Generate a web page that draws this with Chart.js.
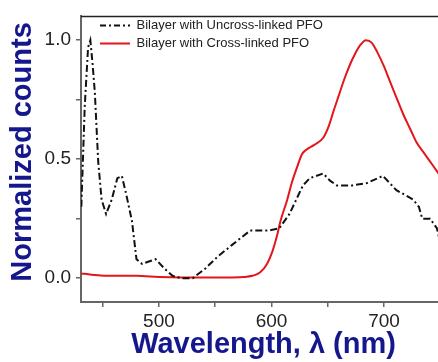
<!DOCTYPE html>
<html>
<head>
<meta charset="utf-8">
<script src="https://cdn.jsdelivr.net/npm/chart.js@4"></script>
<style>
  html, body { margin: 0; padding: 0; background: #ffffff; overflow: hidden; }
  #wrap { width: 438px; height: 362px; position: relative; }
</style>
</head>
<body>
<div id="wrap"><canvas id="c" width="438" height="362"></canvas></div>
<script>
const seriesNames = ["Bilayer with Uncross-linked PFO", "Bilayer with Cross-linked PFO"];

const uncrossWavelength = [431, 434, 437, 439, 441, 443, 446, 449, 453, 458, 463, 467, 471, 476, 480, 485, 491, 497, 505, 512, 520, 530, 541, 552, 565, 581, 597, 607, 616, 622, 628, 634, 646, 652, 658, 672, 685, 699, 705, 711, 726, 731, 734, 741, 747, 750];
const uncrossCounts     = [0.30, 0.72, 0.97, 1.00, 0.90, 0.78, 0.49, 0.33, 0.27, 0.33, 0.42, 0.43, 0.35, 0.24, 0.08, 0.06, 0.07, 0.08, 0.04, 0.01, 0.00, 0.00, 0.04, 0.09, 0.14, 0.20, 0.20, 0.21, 0.27, 0.33, 0.39, 0.42, 0.44, 0.41, 0.39, 0.39, 0.40, 0.43, 0.40, 0.37, 0.33, 0.30, 0.25, 0.25, 0.21, 0.15];

const crossWavelength = [431, 440, 460, 480, 500, 520, 540, 560, 575, 583, 590, 596, 601, 605, 608, 614, 618, 623, 627, 631, 638, 646, 651, 655, 660, 665, 670, 674, 679, 684, 689, 694, 700, 705, 711, 717, 723, 729, 735, 741, 747, 750];
const crossCounts     = [0.02, 0.015, 0.01, 0.01, 0.005, 0.003, 0.003, 0.003, 0.005, 0.01, 0.025, 0.06, 0.115, 0.18, 0.24, 0.33, 0.40, 0.47, 0.52, 0.54, 0.56, 0.59, 0.64, 0.70, 0.77, 0.84, 0.90, 0.94, 0.98, 1.00, 0.99, 0.95, 0.89, 0.83, 0.76, 0.69, 0.63, 0.57, 0.53, 0.49, 0.45, 0.43];

const xMajorTicks = [500, 600, 700];
const yMajorTicks = [0.0, 0.5, 1.0];
const xTitle = " Wavelength, \u03bb (nm)";
const yTitle = "\u2002Normalized counts";

const navy = "#15178c";
const axisGray = "#666666";
const fontFam = "'Liberation Sans', Arial, sans-serif";

function toPoints(xs, ys) { return xs.map((x, i) => ({ x: x, y: ys[i] })); }

const frame = {
  id: 'frame',
  afterLayout(chart) {
    const lg = chart.legend;
    if (lg) { lg.left += 14; lg.top += 14; }
  },
  afterDatasetsDraw(chart) {
    const { ctx, chartArea } = chart;
    ctx.save();
    ctx.strokeStyle = '#222';
    ctx.lineWidth = 1.5;
    ctx.beginPath();
    ctx.moveTo(chartArea.left, chartArea.top);
    ctx.lineTo(chartArea.right, chartArea.top);
    ctx.stroke();
    ctx.restore();
  }
};

new Chart(document.getElementById('c'), {
  type: 'line',
  data: {
    datasets: [
      {
        label: seriesNames[0],
        data: toPoints(uncrossWavelength, uncrossCounts),
        borderColor: '#111111',
        backgroundColor: '#111111',
        borderWidth: 2,
        borderDash: [7, 3, 2, 3],
        pointRadius: 0,
        pointStyle: 'line',
        tension: 0,
        fill: false
      },
      {
        label: seriesNames[1],
        data: toPoints(crossWavelength, crossCounts),
        borderColor: '#e3161b',
        backgroundColor: '#e3161b',
        borderWidth: 2,
        pointRadius: 0,
        pointStyle: 'line',
        tension: 0.35,
        cubicInterpolationMode: 'monotone',
        fill: false
      }
    ]
  },
  options: {
    responsive: false,
    animation: false,
    layout: { padding: { top: 11, right: 0, left: 0, bottom: 0 } },
    plugins: {
      tooltip: { enabled: false },
      legend: {
        position: 'chartArea',
        align: 'start',
        labels: {
          usePointStyle: true,
          pointStyle: 'line',
          pointStyleWidth: 30,
          padding: 5,
          color: '#222222',
          font: { family: fontFam, size: 13 },
          generateLabels(chart) {
            const items = Chart.defaults.plugins.legend.labels.generateLabels(chart);
            items.forEach((it) => {
              const ds = chart.data.datasets[it.datasetIndex];
              it.lineDash = ds.borderDash ? [6, 3, 2, 3] : [];
              it.lineWidth = 2;
              it.strokeStyle = ds.borderColor;
            });
            return items;
          }
        }
      }
    },
    scales: {
      x: {
        type: 'linear',
        min: 430.7,
        max: 748,
        afterFit(s) { s.height = 60; },
        afterBuildTicks(s) { s.ticks = s.ticks.filter(t => Math.abs(t.value / 50 - Math.round(t.value / 50)) < 1e-6); },
        ticks: {
          stepSize: 50,
          includeBounds: false,
          autoSkip: false,
          maxRotation: 0,
          padding: 3,
          color: '#222222',
          font: { family: fontFam, size: 19 },
          callback: (v) => xMajorTicks.includes(v) ? String(v) : ''
        },
        grid: { drawOnChartArea: false, drawTicks: true, tickLength: 5, color: axisGray, lineWidth: 1.5 },
        border: { display: true, color: axisGray, width: 2 },
        title: {
          display: true,
          text: xTitle,
          color: navy,
          padding: { top: 0, bottom: 0 },
          font: { family: fontFam, size: 29, weight: 'bold' }
        }
      },
      y: {
        type: 'linear',
        min: -0.1,
        max: 1.1,
        afterFit(s) { s.width = 81; },
        afterBuildTicks(s) { s.ticks = s.ticks.filter(t => Math.abs(t.value / 0.25 - Math.round(t.value / 0.25)) < 1e-6); },
        ticks: {
          stepSize: 0.25,
          includeBounds: false,
          autoSkip: false,
          padding: 5,
          color: '#222222',
          font: { family: fontFam, size: 19 },
          callback: (v) => yMajorTicks.some(m => Math.abs(m - v) < 1e-6) ? Number(v).toFixed(1) : ''
        },
        grid: { drawOnChartArea: false, drawTicks: true, tickLength: 5, color: axisGray, lineWidth: 1.5 },
        border: { display: true, color: axisGray, width: 2 },
        title: {
          display: true,
          text: yTitle,
          color: navy,
          padding: { top: 6, bottom: 0 },
          font: { family: fontFam, size: 29, weight: 'bold' }
        }
      }
    }
  },
  plugins: [frame]
});
</script>
</body>
</html>
